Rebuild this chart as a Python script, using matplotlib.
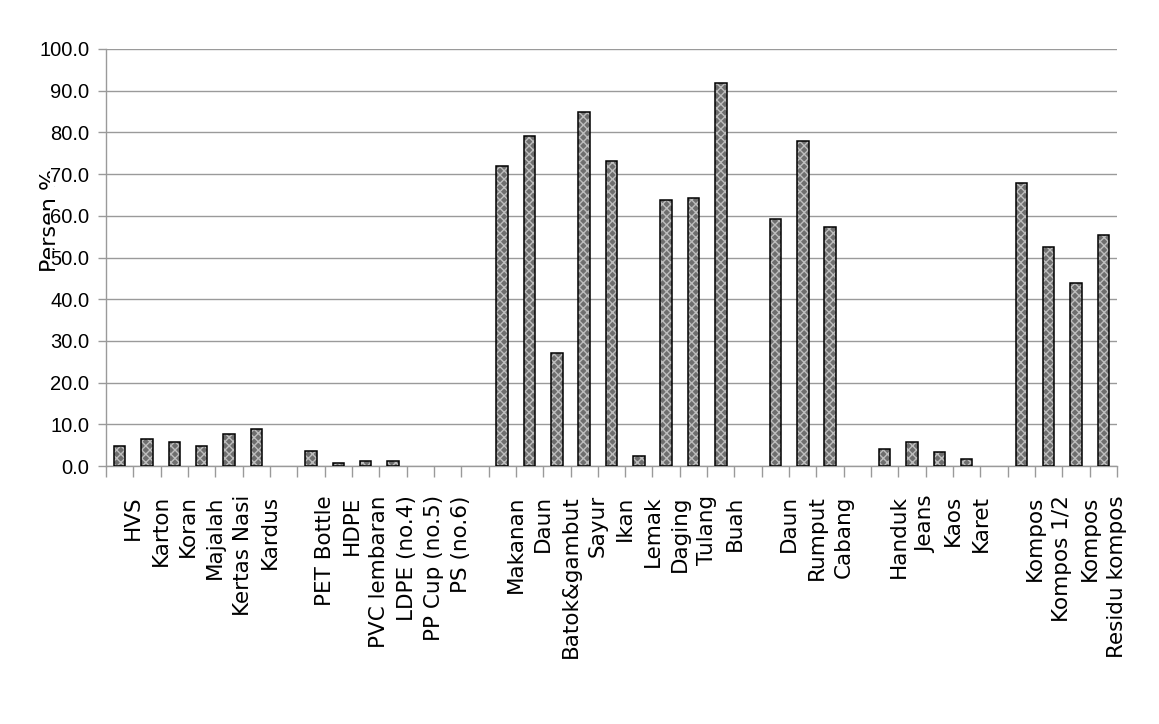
import numpy as np
import matplotlib.pyplot as plt

# Persentase tiap jenis sampah
kertas_labels = ['HVS', 'Karton', 'Koran', 'Majalah', 'Kertas Nasi', 'Kardus']
kertas_values = [4.7, 6.5, 5.8, 4.7, 7.7, 8.9]

plastik_labels = ['PET Bottle', 'HDPE', 'PVC lembaran', 'LDPE (no.4)', 'PP Cup (no.5)', 'PS (no.6)']
plastik_values = [3.5, 0.6, 1.3, 1.3, 0.0, 0.0]

organik_labels = ['Makanan', 'Daun', 'Batok&gambut', 'Sayur', 'Ikan', 'Lemak', 'Daging', 'Tulang', 'Buah']
organik_values = [71.9, 79.1, 27.1, 84.8, 73.1, 2.5, 63.8, 64.3, 91.9]

taman_labels = ['Daun', 'Rumput', 'Cabang']
taman_values = [59.2, 77.9, 57.3]

tekstil_labels = ['Handuk', 'Jeans', 'Kaos', 'Karet']
tekstil_values = [4.0, 5.8, 3.4, 1.7]

kompos_labels = ['Kompos', 'Kompos 1/2', 'Kompos', 'Residu kompos']
kompos_values = [67.8, 52.6, 43.8, 55.5]

y_ticks = [0, 10, 20, 30, 40, 50, 60, 70, 80, 90, 100]

groups = [(kertas_labels, kertas_values), (plastik_labels, plastik_values),
          (organik_labels, organik_values), (taman_labels, taman_values),
          (tekstil_labels, tekstil_values), (kompos_labels, kompos_values)]

# one empty category between groups
labels, values = [], []
for i, (lab, val) in enumerate(groups):
    if i > 0:
        labels.append('')
        values.append(np.nan)
    labels += lab
    values += val
values = np.array(values, dtype=float)
x = np.arange(len(labels)) + 0.5
has = np.nan_to_num(values) > 0

fig = plt.figure(figsize=(11.59, 7.24), dpi=100)
ax = fig.add_axes([106 / 1159, 1 - 466 / 724, (1117 - 106) / 1159, (466 - 49) / 724])

# bars: gray with fine light pattern, black outline
ax.bar(x[has], values[has], width=0.42, color='#6e6e6e', edgecolor='#bdbdbd',
       hatch='xxxx', linewidth=0, zorder=2)
ax.bar(x[has], values[has], width=0.42, fill=False, edgecolor='black',
       linewidth=1.1, zorder=3)

ax.set_xlim(0, len(labels))
ax.set_ylim(0, 100)
ax.set_yticks(y_ticks)
ax.set_yticklabels([f'{v:.1f}' for v in y_ticks],
                   fontfamily=['Liberation Sans Narrow', 'Liberation Sans', 'DejaVu Sans'],
                   fontsize=14.5)
for t in ax.get_yticklabels():
    t.set_bbox(dict(facecolor='white', edgecolor='none', pad=0))

ax.set_xticks(np.arange(len(labels) + 1))
ax.set_xticklabels([''] + labels, rotation=90, fontsize=15.5)

ax.yaxis.grid(True, color='#9a9a9a', linewidth=1)
ax.set_axisbelow(True)
ax.tick_params(axis='y', length=6, width=1, color='#9a9a9a', pad=6)
ax.tick_params(axis='x', length=8, width=1, color='#9a9a9a', pad=13)

for s in ['top', 'right']:
    ax.spines[s].set_visible(False)
for s in ['left', 'bottom']:
    ax.spines[s].set_color('#9a9a9a')
    ax.spines[s].set_linewidth(1)

fig.text(50 / 1159, 1 - 220 / 724, 'Persen %', rotation=90, ha='center',
         va='center', fontsize=16, zorder=-1)

fig.savefig('out.png', dpi=100)
